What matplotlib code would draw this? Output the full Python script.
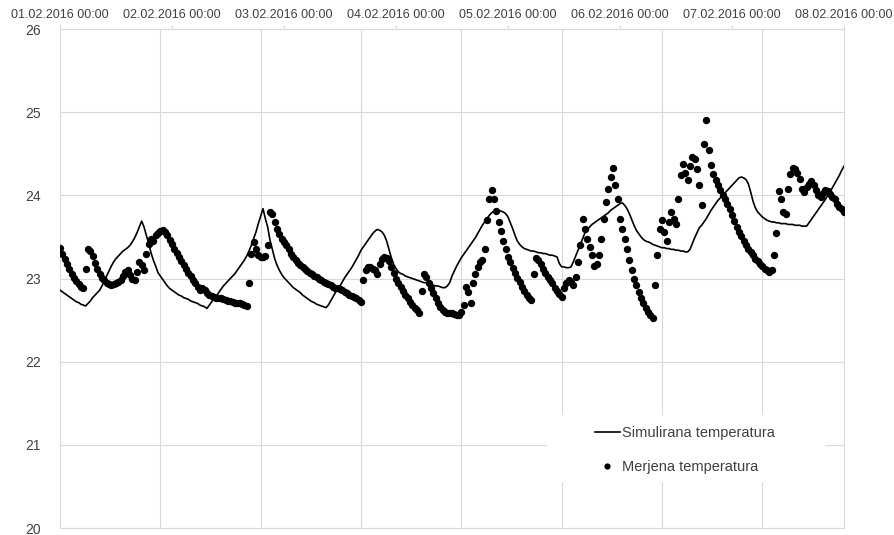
import numpy as np
import pandas as pd
import matplotlib
matplotlib.use('Agg')
import matplotlib.pyplot as plt
from matplotlib.ticker import MultipleLocator, FuncFormatter
from matplotlib.patches import Rectangle

plt.rcParams['font.family'] = ['Liberation Sans', 'DejaVu Sans']

# meritve na pol ure, od 01.02.2016 00:00 do 08.02.2016 00:00
start = pd.Timestamp('2016-02-01 00:00')
korak_h = 0.5

merjena = [
    # 01.02.
    23.37, 23.30, 23.24, 23.18, 23.12, 23.06, 23.01, 22.97, 22.93, 22.90,
    22.89, 23.12, 23.36, 23.33, 23.27, 23.19, 23.12, 23.06, 23.01, 22.98,
    22.95, 22.93, 22.92, 22.93, 22.94, 22.96, 22.98, 23.03, 23.08, 23.10,
    23.04, 23.00, 22.98, 23.08, 23.20, 23.16, 23.10, 23.30, 23.42, 23.47,
    23.45, 23.52, 23.55, 23.57, 23.58, 23.56, 23.52, 23.46,
    # 02.02.
    23.42, 23.36, 23.31, 23.26, 23.21, 23.16, 23.11, 23.07, 23.03, 22.98,
    22.94, 22.90, 22.86, 22.88, 22.86, 22.82, 22.80, 22.79, 22.78, 22.77,
    22.76, 22.76, 22.75, 22.74, 22.73, 22.73, 22.72, 22.71, 22.70, 22.70,
    22.69, 22.68, 22.67, 22.95, 23.30, 23.44, 23.35, 23.28, 23.26, 23.26,
    23.27, 23.40, 23.80, 23.78, 23.68, 23.60, 23.54, 23.47,
    # 03.02.
    23.44, 23.40, 23.35, 23.30, 23.26, 23.22, 23.19, 23.16, 23.14, 23.11,
    23.09, 23.07, 23.05, 23.03, 23.02, 23.00, 22.98, 22.96, 22.95, 22.93,
    22.92, 22.90, 22.89, 22.88, 22.87, 22.86, 22.84, 22.82, 22.80, 22.79,
    22.78, 22.76, 22.74, 22.72, 22.98, 23.10, 23.14, 23.14, 23.12, 23.10,
    23.06, 23.18, 23.24, 23.26, 23.25, 23.21, 23.14, 23.07,
    # 04.02.
    23.00, 22.95, 22.90, 22.85, 22.80, 22.76, 22.72, 22.68, 22.65, 22.62,
    22.58, 22.85, 23.05, 23.02, 22.94, 22.88, 22.82, 22.77, 22.71, 22.66,
    22.62, 22.60, 22.59, 22.58, 22.58, 22.57, 22.56, 22.56, 22.60, 22.68,
    22.90, 22.84, 22.70, 22.95, 23.05, 23.14, 23.20, 23.22, 23.35, 23.70,
    23.95, 24.06, 23.96, 23.81, 23.68, 23.57, 23.45, 23.36,
    # 05.02.
    23.26, 23.20, 23.13, 23.07, 23.01, 22.96, 22.90, 22.85, 22.80, 22.77,
    22.74, 23.05, 23.25, 23.22, 23.18, 23.12, 23.07, 23.02, 22.98, 22.94,
    22.89, 22.85, 22.81, 22.78, 22.88, 22.95, 22.98, 22.96, 22.92, 23.02,
    23.20, 23.40, 23.72, 23.60, 23.48, 23.38, 23.28, 23.15, 23.18, 23.28,
    23.48, 23.72, 23.92, 24.08, 24.22, 24.33, 24.12, 23.95,
    # 06.02.
    23.72, 23.60, 23.48, 23.36, 23.22, 23.10, 23.00, 22.92, 22.84, 22.76,
    22.70, 22.65, 22.60, 22.56, 22.52, 22.92, 23.28, 23.60, 23.70, 23.56,
    23.45, 23.68, 23.80, 23.72, 23.65, 23.96, 24.25, 24.38, 24.27, 24.18,
    24.35, 24.46, 24.44, 24.32, 24.12, 23.88, 24.62, 24.91, 24.55, 24.36,
    24.26, 24.19, 24.12, 24.07, 24.01, 23.95, 23.89, 23.83,
    # 07.02.
    23.76, 23.69, 23.62, 23.56, 23.51, 23.45, 23.40, 23.35, 23.32, 23.28,
    23.24, 23.21, 23.18, 23.15, 23.12, 23.10, 23.08, 23.10, 23.28, 23.55,
    24.05, 23.95, 23.80, 23.78, 24.08, 24.26, 24.33, 24.32, 24.27, 24.20,
    24.08, 24.04, 24.10, 24.14, 24.17, 24.12, 24.06, 24.00, 23.98, 24.03,
    24.06, 24.05, 24.02, 23.98, 23.95, 23.90, 23.86, 23.83, 23.80,
]

simulirana = [
    # 01.02.
    22.86, 22.84, 22.82, 22.80, 22.78, 22.76, 22.74, 22.72, 22.71, 22.69,
    22.68, 22.67, 22.70, 22.73, 22.77, 22.80, 22.83, 22.86, 22.91, 22.97,
    23.03, 23.09, 23.15, 23.20, 23.24, 23.27, 23.30, 23.33, 23.35, 23.37,
    23.40, 23.44, 23.49, 23.55, 23.62, 23.69, 23.62, 23.52, 23.42, 23.31,
    23.22, 23.15, 23.07, 23.03, 22.99, 22.95, 22.91, 22.88,
    # 02.02.
    22.86, 22.84, 22.82, 22.80, 22.79, 22.77, 22.76, 22.75, 22.73, 22.72,
    22.71, 22.70, 22.68, 22.67, 22.66, 22.64, 22.68, 22.72, 22.76, 22.79,
    22.83, 22.87, 22.91, 22.94, 22.97, 23.00, 23.03, 23.06, 23.10, 23.14,
    23.18, 23.22, 23.27, 23.33, 23.40, 23.48, 23.56, 23.66, 23.75, 23.84,
    23.72, 23.62, 23.46, 23.35, 23.24, 23.16, 23.10, 23.05,
    # 03.02.
    23.01, 22.98, 22.95, 22.92, 22.89, 22.87, 22.85, 22.83, 22.80, 22.78,
    22.76, 22.74, 22.72, 22.71, 22.69, 22.68, 22.67, 22.66, 22.65, 22.68,
    22.73, 22.78, 22.83, 22.87, 22.91, 22.96, 23.01, 23.05, 23.09, 23.13,
    23.18, 23.23, 23.28, 23.34, 23.38, 23.42, 23.46, 23.50, 23.54, 23.57,
    23.59, 23.58, 23.56, 23.52, 23.45, 23.35, 23.25, 23.17,
    # 04.02.
    23.12, 23.08, 23.06, 23.05, 23.03, 23.02, 23.01, 23.00, 22.99, 22.98,
    22.97, 22.96, 22.95, 22.95, 22.94, 22.93, 22.92, 22.91, 22.91, 22.90,
    22.89, 22.89, 22.91, 22.95, 23.03, 23.09, 23.15, 23.20, 23.25, 23.29,
    23.33, 23.37, 23.41, 23.45, 23.49, 23.54, 23.59, 23.64, 23.68, 23.72,
    23.76, 23.79, 23.81, 23.82, 23.82, 23.81, 23.80, 23.78,
    # 05.02.
    23.74, 23.67, 23.60, 23.52, 23.45, 23.41, 23.38, 23.36, 23.35, 23.34,
    23.33, 23.33, 23.32, 23.31, 23.31, 23.30, 23.30, 23.29, 23.28, 23.28,
    23.27, 23.26, 23.18, 23.14, 23.14, 23.13, 23.13, 23.14, 23.20, 23.27,
    23.34, 23.41, 23.48, 23.55, 23.59, 23.62, 23.65, 23.67, 23.69, 23.71,
    23.73, 23.75, 23.77, 23.79, 23.82, 23.84, 23.86, 23.88,
    # 06.02.
    23.90, 23.91, 23.88, 23.84, 23.78, 23.71, 23.64, 23.58, 23.54, 23.50,
    23.47, 23.45, 23.44, 23.43, 23.41, 23.40, 23.39, 23.38, 23.37, 23.37,
    23.36, 23.36, 23.35, 23.35, 23.34, 23.34, 23.33, 23.33, 23.32, 23.32,
    23.35, 23.42, 23.49, 23.55, 23.61, 23.64, 23.68, 23.72, 23.77, 23.82,
    23.86, 23.90, 23.94, 23.97, 24.00, 24.03, 24.06, 24.09,
    # 07.02.
    24.12, 24.15, 24.18, 24.21, 24.22, 24.21, 24.19, 24.14, 24.04, 23.93,
    23.85, 23.80, 23.77, 23.74, 23.72, 23.70, 23.69, 23.68, 23.68, 23.67,
    23.67, 23.66, 23.66, 23.66, 23.65, 23.65, 23.65, 23.64, 23.64, 23.64,
    23.63, 23.63, 23.63, 23.67, 23.71, 23.75, 23.79, 23.83, 23.87, 23.91,
    23.95, 24.00, 24.04, 24.09, 24.14, 24.19, 24.24, 24.30, 24.35,
]

ure = np.arange(len(merjena)) * korak_h
siva = '#d9d9d9'
tekst = '#404040'

fig = plt.figure(figsize=(8.95, 5.35), dpi=100)
ax = fig.add_axes([60 / 895, 7 / 535, 784 / 895, 499 / 535])

l_sim, = ax.plot(ure, simulirana, color='black', lw=1.2,
                 label='Simulirana temperatura', zorder=3)
l_mer, = ax.plot(ure, merjena, 'o', color='black', ms=5.3, mew=0,
                 label='Merjena temperatura', zorder=4)

ax.set_xlim(0, 168)
ax.set_ylim(20, 26)
ax.set_yticks(range(20, 27))

# datumi zgoraj, mreza v svojem razmiku
ax.xaxis.tick_top()
ax.xaxis.set_major_locator(MultipleLocator(24))
ax.xaxis.set_major_formatter(FuncFormatter(
    lambda h, _: (start + pd.Timedelta(hours=h)).strftime('%d.%m.%Y %H:%M')))
ax.xaxis.set_minor_locator(MultipleLocator(21.5))
ax.grid(which='minor', axis='x', color=siva, lw=0.8)
ax.grid(which='major', axis='y', color=siva, lw=0.8)
ax.set_axisbelow(True)

ax.tick_params(axis='x', which='major', length=3, color=siva, width=0.8,
               labelsize=9, labelcolor=tekst, pad=3)
ax.tick_params(axis='x', which='minor', length=0)
ax.tick_params(axis='y', length=0, labelsize=10, labelcolor=tekst, pad=14)
for s in ax.spines.values():
    s.set_color(siva)
    s.set_linewidth(0.8)

# belo ozadje legende prekrije mrezo
ax.add_patch(Rectangle((0.621, 0.092), 0.355, 0.134, transform=ax.transAxes,
                       facecolor='white', edgecolor='none', zorder=1))
leg = ax.legend(handles=[l_sim, l_mer], loc='upper left',
                bbox_to_anchor=(595 / 895, 1 - 426 / 535),
                bbox_transform=fig.transFigure, frameon=False, fontsize=10.5,
                handlelength=1.7, handletextpad=0.15, labelspacing=1.35,
                borderpad=0, borderaxespad=0, numpoints=1, markerscale=0.85)
for t in leg.get_texts():
    t.set_color(tekst)

fig.savefig('out.png', dpi=100)
